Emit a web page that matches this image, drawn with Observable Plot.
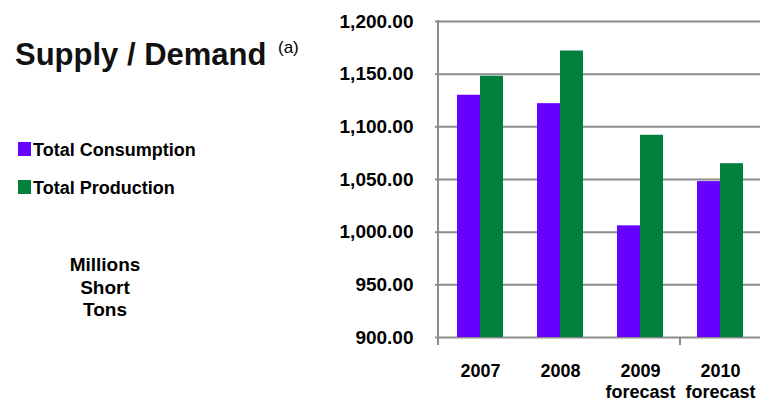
<!DOCTYPE html>
<html><head><meta charset="utf-8">
<script src="https://cdn.jsdelivr.net/npm/d3@7"></script>
<script src="https://cdn.jsdelivr.net/npm/@observablehq/plot@0.6"></script>
<style>
body{margin:0;background:#fff;font-family:"Liberation Sans",Arial,sans-serif;color:#000;}
#wrap{position:relative;width:760px;height:403px;overflow:hidden;background:#fff;}
#chart{position:absolute;left:0;top:0;}
.abs{position:absolute;white-space:nowrap;}
.title{left:15px;top:39px;font-size:31px;font-weight:bold;line-height:31px;color:#111;}
.note{left:278px;top:39px;font-size:17px;line-height:17px;}
.sw{width:13px;height:14px;}
.lg{font-size:18px;font-weight:bold;line-height:18px;}
.units{left:5px;top:254px;width:200px;text-align:center;font-size:19px;font-weight:bold;line-height:22.5px;}
</style></head>
<body>
<div id="wrap">
  <div id="chart"></div>
  <div class="abs title">Supply / Demand</div>
  <div class="abs note">(a)</div>
  <div id="legend"></div>
  <div class="abs units">Millions<br>Short<br>Tons</div>
</div>
<script>
const years = ["2007", "2008", "2009\nforecast", "2010\nforecast"];
const seriesNames = ["Total Consumption", "Total Production"];
const consumption = [1130, 1122, 1006, 1048];
const production = [1148, 1172, 1092, 1065];
const colors = ["#6600ff", "#00803c"];
const yTicks = [900, 950, 1000, 1050, 1100, 1150, 1200];
const yBase = 900;

const data = years.flatMap((yr, i) => [
  {year: yr, series: seriesNames[0], value: consumption[i]},
  {year: yr, series: seriesNames[1], value: production[i]}
]);

const plot = Plot.plot({
  width: 760, height: 403,
  marginLeft: 440, marginRight: 0, marginTop: 21, marginBottom: 66,
  style: {fontFamily: '"Liberation Sans", Arial, sans-serif', fontSize: "18px", fontWeight: "bold", color: "#000", background: "transparent"},
  fx: {domain: years, padding: 0, label: null},
  x: {domain: seriesNames, paddingInner: 0, paddingOuter: 0.71, axis: null},
  y: {domain: [yTicks[0], yTicks[yTicks.length - 1]], label: null},
  color: {domain: seriesNames, range: colors},
  marks: [
    Plot.gridY(yTicks, {stroke: "#8c8c8c", strokeOpacity: 1, strokeWidth: 2}),
    Plot.barY(data, {fx: "year", x: "series", y1: yBase, y2: "value", fill: "series"}),
    Plot.axisY(yTicks, {tickFormat: d3.format(",.2f"), tickSize: 5, tickPadding: 22, stroke: "#8c8c8c", strokeWidth: 2, fontSize: 19, fontWeight: "bold", label: null}),
    Plot.axisFx({anchor: "bottom", tickSize: 0, tickPadding: 24, fontSize: 18, fontWeight: "bold", lineHeight: 1.2, label: null})
  ]
});
document.getElementById("chart").appendChild(plot);

// axis line and category tick, placed with the plot's own scales
const fx = plot.scale("fx"), y = plot.scale("y");
const svg = d3.select(plot);
const xl = fx.apply(years[0]) - 2;
const yTop = y.apply(yTicks[yTicks.length - 1]), yBot = y.apply(yBase);
svg.append("line").attr("x1", xl).attr("x2", xl).attr("y1", yTop - 1).attr("y2", yBot + 8)
  .attr("stroke", "#8c8c8c").attr("stroke-width", 2);
const xt = fx.apply(years[3]);
svg.append("line").attr("x1", xt).attr("x2", xt).attr("y1", yBot).attr("y2", yBot + 8)
  .attr("stroke", "#8c8c8c").attr("stroke-width", 2);

// legend
const lg = document.getElementById("legend");
const tops = [142, 180];
seriesNames.forEach((s, i) => {
  const sw = document.createElement("div");
  sw.className = "abs sw"; sw.style.left = "18px"; sw.style.top = tops[i] + "px"; sw.style.background = colors[i];
  lg.appendChild(sw);
  const t = document.createElement("div");
  t.className = "abs lg"; t.style.left = "33px"; t.style.top = (tops[i] - 1) + "px"; t.textContent = s;
  lg.appendChild(t);
});
</script>
</body></html>
